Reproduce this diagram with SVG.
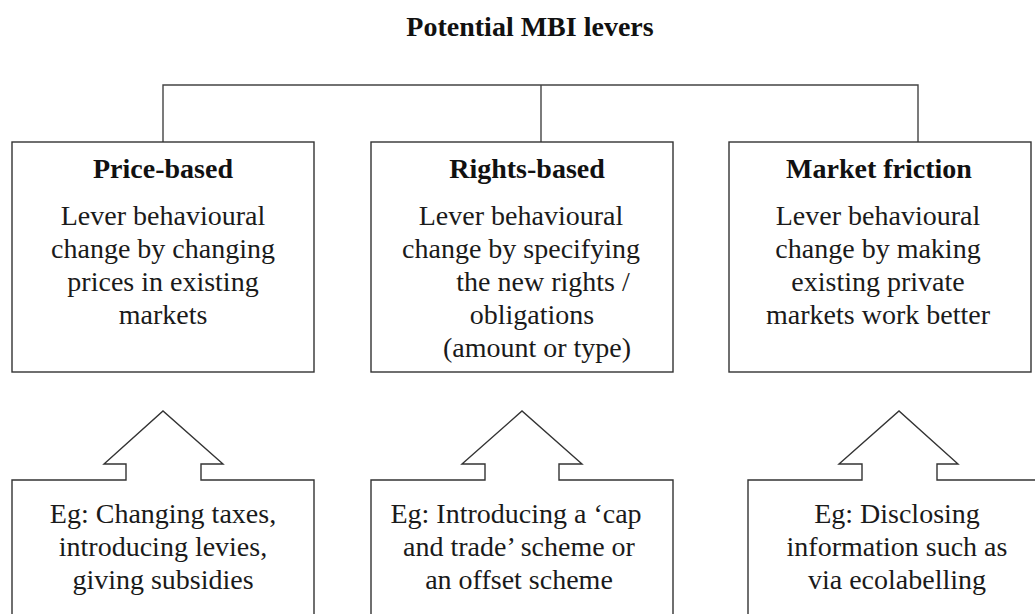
<svg xmlns="http://www.w3.org/2000/svg" width="1035" height="614" viewBox="0 0 1035 614">
  <style>
    .bg { fill: #ffffff; }
    .box { fill: #ffffff; stroke: #333333; stroke-width: 1.4; }
    .wire { fill: none; stroke: #444444; stroke-width: 1.4; }
    text { font-family: 'Liberation Serif', 'DejaVu Serif', serif; }
    .title { font-weight: bold; font-size: 28px; fill: #111111; text-anchor: middle; }
    .head { font-weight: bold; font-size: 28px; fill: #111111; text-anchor: middle; }
    .body { font-size: 28px; fill: #1a1a1a; text-anchor: middle; }
  </style>
  <rect class="bg" x="0" y="0" width="1035" height="614"/>

  <text class="title" x="530" y="36">Potential MBI levers</text>

  <!-- tree links from the title bar down to the three lever boxes -->
  <g id="connectors">
    <path class="wire" d="M163,142 V85 H918 V142"/>
    <path class="wire" d="M541,85 V142"/>
  </g>

  <g id="price-based">
    <rect class="box" x="12" y="142" width="302" height="230"/>
    <text class="head" x="163" y="178">Price-based</text>
    <text class="body" x="163" y="225">Lever behavioural</text>
    <text class="body" x="163" y="258">change by changing</text>
    <text class="body" x="163" y="291">prices in existing</text>
    <text class="body" x="163" y="324">markets</text>
  </g>

  <g id="rights-based">
    <rect class="box" x="371" y="142" width="302" height="230"/>
    <text class="head" x="527" y="178">Rights-based</text>
    <text class="body" x="521" y="225">Lever behavioural</text>
    <text class="body" x="521" y="258">change by specifying</text>
    <text class="body" x="543" y="291">the new rights /</text>
    <text class="body" x="532" y="324">obligations</text>
    <text class="body" x="537" y="357">(amount or type)</text>
  </g>

  <g id="market-friction">
    <rect class="box" x="729" y="142" width="302" height="230"/>
    <text class="head" x="879" y="178">Market friction</text>
    <text class="body" x="878" y="225">Lever behavioural</text>
    <text class="body" x="878" y="258">change by making</text>
    <text class="body" x="878" y="291">existing private</text>
    <text class="body" x="878" y="324">markets work better</text>
  </g>

  <!-- example boxes with their upward block arrows -->
  <g id="example-price">
    <path class="box" d="M12,620 V480 H126 V464 H104 L163,411 L223,464 H201 V480 H314 V620"/>
    <text class="body" x="163" y="523">Eg: Changing taxes,</text>
    <text class="body" x="163" y="556">introducing levies,</text>
    <text class="body" x="163" y="589">giving subsidies</text>
  </g>

  <g id="example-rights">
    <path class="box" d="M371,620 V480 H485 V464 H462 L522,411 L582,464 H559 V480 H673 V620"/>
    <text class="body" x="516" y="523">Eg: Introducing a ‘cap</text>
    <text class="body" x="519" y="556">and trade’ scheme or</text>
    <text class="body" x="519" y="589">an offset scheme</text>
  </g>

  <g id="example-friction">
    <path class="box" d="M748,620 V480 H862 V464 H839 L899,411 L958,464 H937 V480 H1040"/>
    <text class="body" x="897" y="523">Eg: Disclosing</text>
    <text class="body" x="897" y="556">information such as</text>
    <text class="body" x="897" y="589">via ecolabelling</text>
  </g>
</svg>
